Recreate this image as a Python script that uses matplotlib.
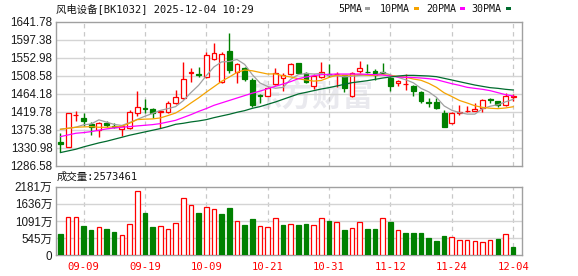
import matplotlib
matplotlib.use('Agg')
import matplotlib.pyplot as plt
from matplotlib.patches import Rectangle
import numpy as np

# ---------------- data ----------------
dates = ['09-04', '09-05', '09-08', '09-09', '09-10', '09-11', '09-12', '09-15', '09-16', '09-17',
         '09-18', '09-19', '09-22', '09-23', '09-24', '09-25', '09-26', '09-29', '09-30', '10-09',
         '10-10', '10-13', '10-14', '10-15', '10-16', '10-17', '10-20', '10-21', '10-22', '10-23',
         '10-24', '10-27', '10-28', '10-29', '10-30', '10-31', '11-03', '11-04', '11-05', '11-06',
         '11-07', '11-10', '11-11', '11-12', '11-13', '11-14', '11-17', '11-18', '11-19', '11-20',
         '11-21', '11-24', '11-25', '11-26', '11-27', '11-28', '12-01', '12-02', '12-03', '12-04']

opens = [1345.6, 1333.2, 1410.0, 1403.8, 1389.9, 1374.3, 1391.5, 1385.0, 1377.0, 1380.0,
         1415.3, 1428.5, 1426.0, 1418.0, 1417.8, 1440.0, 1452.3, 1515.0, 1512.0, 1505.7,
         1548.4, 1491.7, 1568.9, 1518.0, 1527.8, 1497.5, 1459.6, 1458.9, 1486.8, 1501.6,
         1511.4, 1538.5, 1513.9, 1483.5, 1504.0, 1512.0, 1511.5, 1508.9, 1458.0, 1520.4,
         1518.0, 1520.4, 1516.0, 1502.4, 1489.0, 1487.0, 1482.7, 1468.7, 1442.5, 1444.0,
         1417.0, 1390.7, 1416.0, 1421.0, 1421.9, 1427.6, 1450.6, 1445.7, 1435.0, 1455.0]
highs = [1366.0, 1416.0, 1422.0, 1415.0, 1394.8, 1393.0, 1396.0, 1390.7, 1384.0, 1423.5,
         1471.0, 1450.6, 1428.0, 1423.0, 1445.7, 1472.8, 1541.0, 1527.8, 1530.0, 1565.6,
         1587.8, 1565.6, 1614.0, 1540.0, 1530.0, 1501.6, 1463.0, 1481.0, 1527.8, 1513.9,
         1540.0, 1539.0, 1516.3, 1511.4, 1542.6, 1536.0, 1518.0, 1510.6, 1518.0, 1544.0,
         1536.0, 1524.5, 1540.0, 1505.7, 1497.5, 1512.2, 1484.3, 1470.4, 1452.0, 1453.9,
         1423.5, 1418.6, 1435.9, 1433.0, 1441.6, 1449.8, 1453.9, 1445.7, 1464.6, 1463.0]
lows = [1321.0, 1332.0, 1397.0, 1384.0, 1362.0, 1358.0, 1380.8, 1378.4, 1360.0, 1376.0,
        1408.8, 1415.3, 1403.0, 1378.5, 1415.3, 1438.3, 1450.6, 1493.0, 1504.0, 1501.6,
        1546.7, 1490.0, 1515.5, 1490.9, 1495.8, 1431.8, 1440.0, 1457.0, 1484.3, 1471.2,
        1509.8, 1513.9, 1489.2, 1475.3, 1501.6, 1505.6, 1481.0, 1468.7, 1456.4, 1515.5,
        1515.5, 1497.5, 1511.4, 1471.2, 1483.5, 1472.8, 1458.0, 1441.6, 1430.0, 1425.0,
        1382.0, 1389.0, 1411.0, 1418.0, 1421.0, 1418.6, 1440.0, 1430.0, 1433.5, 1445.7]
closes = [1339.8, 1415.3, 1411.0, 1397.3, 1381.7, 1390.7, 1387.4, 1382.5, 1384.0, 1417.8,
          1430.0, 1426.0, 1417.0, 1421.0, 1440.0, 1454.8, 1499.0, 1517.0, 1510.6, 1559.0,
          1563.0, 1560.7, 1522.0, 1536.0, 1499.0, 1435.9, 1458.0, 1478.6, 1513.9, 1509.8,
          1536.0, 1515.5, 1491.7, 1508.1, 1516.3, 1510.0, 1513.0, 1478.6, 1515.5, 1527.0,
          1516.5, 1508.9, 1515.0, 1483.5, 1495.0, 1488.0, 1471.2, 1445.7, 1441.0, 1427.6,
          1382.5, 1417.0, 1418.0, 1422.0, 1426.8, 1448.2, 1449.0, 1435.9, 1458.0, 1457.5]

ma5 = [1376.0, 1378.5, 1381.0, 1387.0, 1389.0, 1399.2, 1393.6, 1387.9, 1385.3, 1392.5,
       1400.3, 1408.1, 1415.0, 1422.4, 1426.8, 1431.8, 1446.4, 1466.4, 1484.3, 1508.1,
       1529.7, 1542.1, 1543.1, 1548.1, 1536.1, 1510.7, 1490.2, 1481.5, 1477.1, 1479.2,
       1499.3, 1510.8, 1513.4, 1512.2, 1513.5, 1508.3, 1507.8, 1505.2, 1506.7, 1508.8,
       1510.1, 1509.3, 1516.6, 1510.2, 1503.8, 1498.1, 1490.5, 1476.7, 1468.2, 1454.7,
       1433.6, 1422.8, 1417.2, 1413.4, 1413.3, 1426.4, 1432.8, 1436.4, 1443.6, 1449.7]
ma10 = [1375.9, 1378.4, 1380.9, 1381.7, 1382.5, 1380.9, 1380.9, 1381.7, 1383.3, 1390.8,
        1399.8, 1400.9, 1401.5, 1403.9, 1409.7, 1416.0, 1427.3, 1440.7, 1453.4, 1467.5,
        1480.8, 1494.3, 1504.8, 1516.2, 1522.1, 1520.2, 1516.2, 1512.3, 1512.6, 1507.7,
        1505.0, 1500.5, 1497.5, 1494.7, 1496.4, 1503.8, 1509.3, 1509.3, 1509.5, 1511.2,
        1509.2, 1508.6, 1510.9, 1508.5, 1506.3, 1504.1, 1499.9, 1496.7, 1489.2, 1479.3,
        1465.9, 1456.7, 1447.0, 1440.8, 1434.0, 1430.0, 1427.8, 1426.8, 1428.5, 1431.5]
ma20 = [1357.9, 1362.0, 1366.1, 1367.7, 1370.2, 1373.5, 1376.8, 1379.2, 1380.9, 1382.5,
        1384.2, 1385.8, 1387.4, 1389.9, 1394.0, 1398.0, 1405.0, 1412.0, 1420.0, 1427.0,
        1435.0, 1441.0, 1447.0, 1453.0, 1459.0, 1465.0, 1470.0, 1476.0, 1482.0, 1487.6,
        1493.5, 1500.7, 1504.8, 1508.1, 1510.6, 1511.4, 1512.2, 1512.2, 1512.2, 1512.2,
        1511.4, 1510.6, 1509.8, 1507.3, 1505.0, 1504.0, 1503.5, 1502.4, 1500.7, 1498.3,
        1493.3, 1488.4, 1484.3, 1479.4, 1476.9, 1474.5, 1471.2, 1466.3, 1461.3, 1458.1]
ma30 = [1318.5, 1322.6, 1326.7, 1332.4, 1337.4, 1342.3, 1346.4, 1351.3, 1356.2, 1361.2,
        1365.3, 1369.4, 1373.5, 1377.6, 1382.5, 1388.2, 1390.7, 1394.0, 1396.5, 1399.7,
        1404.6, 1408.8, 1412.9, 1417.8, 1421.9, 1427.6, 1431.8, 1437.5, 1443.2, 1449.8,
        1456.4, 1463.0, 1467.0, 1471.2, 1475.3, 1478.6, 1482.7, 1486.8, 1490.9, 1493.3,
        1495.8, 1499.1, 1502.4, 1504.8, 1507.3, 1508.9, 1508.9, 1508.1, 1507.3, 1505.7,
        1501.6, 1497.5, 1493.3, 1489.2, 1485.1, 1481.8, 1478.6, 1476.9, 1474.5, 1472.8]

volume = [670, 1202, 1202, 926, 798, 915, 830, 734, 660, 1011,
          2032, 1351, 894, 947, 851, 1021, 1809, 1585, 1341, 1522,
          1458, 1319, 1500, 1075, 958, 1149, 947, 894, 1170, 958,
          1011, 958, 990, 979, 1170, 1085, 1043, 798, 883, 1043,
          830, 830, 1170, 1053, 819, 702, 702, 702, 543, 447,
          628, 596, 479, 500, 447, 415, 500, 511, 670, 255]
vol_up = [0, 1, 1, 0, 0, 1, 0, 0, 1, 1,
          1, 0, 0, 1, 1, 1, 1, 1, 0, 1,
          1, 0, 0, 1, 0, 0, 1, 1, 1, 0,
          1, 0, 0, 1, 1, 0, 1, 0, 1, 1,
          0, 0, 1, 0, 1, 0, 0, 0, 0, 0,
          0, 1, 1, 1, 1, 1, 1, 0, 1, 0]

price_ticks = [1286.58, 1330.98, 1375.38, 1419.78, 1464.18, 1508.58, 1552.98, 1597.38, 1641.78]
vol_ticks = [0, 545, 1091, 1636, 2181]
vol_tick_labels = ['0', '545万', '1091万', '1636万', '2181万']
date_tick_idx = [3, 11, 19, 27, 35, 43, 51, 59]
title = '风电设备[BK1032] 2025-12-04 10:29'
vol_title = '成交量:2573461'
legend_names = ['5PMA', '10PMA', '20PMA', '30PMA']
watermark = '东方财富'

# ---------------- style ----------------
RED = '#FF0000'
GREEN = '#008000'
MA_COLORS = ['#A0A0A0', '#F5A300', '#FF00FF', '#006B2E']
SPINE = '#A0A0A0'
GRID = '#D4D4D4'
NUMFONT = ['Liberation Sans', 'Noto Sans CJK SC']
MONOFONT = ['DejaVu Sans Mono', 'Noto Sans CJK SC']

W, H = 578, 276
fig = plt.figure(figsize=(W / 100, H / 100), dpi=100)


def rect(l, t, r, b):
    return [l / W, 1 - b / H, (r - l) / W, (b - t) / H]


ax = fig.add_axes(rect(55.5, 21.5, 522, 165.5))
axv = fig.add_axes(rect(55.5, 186.7, 522, 255.3))

x = np.arange(len(closes))
o = np.array(opens)
c = np.array(closes)
hi = np.array(highs)
lo = np.array(lows)
up = c >= o
ccol = [RED if u else GREEN for u in up]
fcol = ['white' if u else GREEN for u in up]

xmin, xmax = -0.65, 60.15
for a in (ax, axv):
    a.set_xlim(xmin, xmax)
    for s in a.spines.values():
        s.set_color(SPINE)
        s.set_linewidth(1.0)
    for i in date_tick_idx:
        a.axvline(i, color='#C8C8C8', lw=0.9, ls=(0, (3.5, 3)), zorder=1)

# price panel
ax.set_ylim(price_ticks[0], price_ticks[-1])
ax.set_yticks(price_ticks)
ax.set_yticklabels(['%.2f' % t for t in price_ticks], fontfamily=NUMFONT, fontsize=8.4, color='#1a1a1a')
ax.tick_params(axis='y', length=0, pad=2.2)
ax.set_xticks([])
for t in price_ticks[1:-1]:
    ax.axhline(t, color=GRID, lw=1.0, zorder=1)

# watermark (placed in figure pixels, drawn behind the marks)
ax.text(312 / W, 1 - 97 / H, watermark, fontsize=22, fontweight='bold', color='#E9E9EE',
        fontfamily=['Noto Sans CJK SC'], ha='center', va='center', zorder=0.5,
        transform=fig.transFigure)

ax.vlines(x, lo, hi, colors=ccol, linewidth=1.0, zorder=3)
body_h = np.maximum(np.abs(c - o), 0.8)
ax.bar(x, body_h, bottom=np.minimum(o, c), width=0.62, color=fcol, edgecolor=ccol,
       linewidth=0.9, zorder=4)

for vals, col in zip([ma5, ma10, ma20, ma30], MA_COLORS):
    ax.plot(x, vals, color=col, lw=0.9, zorder=5)

# volume panel
vcol = [RED if u else GREEN for u in vol_up]
vfill = ['white' if u else GREEN for u in vol_up]
axv.set_ylim(vol_ticks[0], vol_ticks[-1])
axv.set_yticks(vol_ticks)
axv.set_yticklabels(vol_tick_labels, fontfamily=NUMFONT, fontsize=8.4, color='#1a1a1a')
axv.tick_params(axis='y', length=0, pad=2.2)
for t in vol_ticks[1:-1]:
    axv.axhline(t, color=GRID, lw=1.0, zorder=1)
axv.bar(x, volume, width=0.6, color=vfill, edgecolor=vcol, linewidth=0.9, zorder=3)
axv.set_xticks(date_tick_idx)
axv.set_xticklabels([dates[i] for i in date_tick_idx], fontfamily=MONOFONT, fontsize=7.6, color=RED)
axv.tick_params(axis='x', length=0, pad=4.5)

# header texts
fig.text(56.5 / W, 1 - 9 / H, title, fontfamily=MONOFONT, fontsize=7.5, color='#111111',
         ha='left', va='center')
fig.text(57 / W, 1 - 177 / H, vol_title, fontfamily=MONOFONT, fontsize=7.5, color='#111111',
         ha='left', va='center')

leg_x = [338.3, 380, 426, 471.7]
sq_x = [365, 413.5, 460, 506]
for name, lx, sx, col in zip(legend_names, leg_x, sq_x, MA_COLORS):
    fig.text(lx / W, 1 - 8.8 / H, name, fontfamily=MONOFONT, fontsize=7.2, color='#111111',
             ha='left', va='center')
    fig.add_artist(Rectangle((sx / W, 1 - 10.3 / H), 5.2 / W, 3.2 / H, transform=fig.transFigure,
                             facecolor=col, edgecolor='none'))

fig.savefig('out.png', dpi=100)
